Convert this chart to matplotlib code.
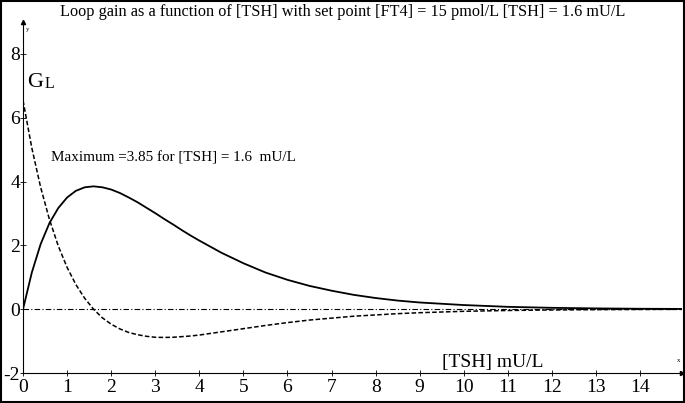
import numpy as np
import matplotlib.pyplot as plt
from matplotlib.patches import Rectangle

# [TSH] values (mU/L)
tsh = [0, 0.2, 0.4, 0.6, 0.8, 1.0, 1.2, 1.4, 1.6, 1.8, 2.0, 2.2, 2.4, 2.6, 2.8,
       3.0, 3.2, 3.4, 3.6, 3.8, 4.0, 4.5, 5.0, 5.5, 6.0, 6.5, 7.0, 7.5, 8.0,
       8.5, 9.0, 10.0, 11.0, 12.0, 13.0, 14.0, 15.0]
# loop gain G_L (solid)
gain = [0, 1.15, 2.04, 2.70, 3.17, 3.50, 3.71, 3.82, 3.85, 3.82, 3.75, 3.64,
        3.50, 3.35, 3.18, 3.01, 2.83, 2.66, 2.48, 2.31, 2.15, 1.77, 1.44, 1.15,
        0.92, 0.73, 0.58, 0.45, 0.35, 0.27, 0.21, 0.13, 0.074, 0.043, 0.025,
        0.014, 0.008]
# slope of loop gain (dashed)
slope = [6.54, 5.05, 3.82, 2.81, 1.98, 1.31, 0.77, 0.34, 0, -0.27, -0.47, -0.62,
         -0.73, -0.80, -0.85, -0.88, -0.885, -0.88, -0.86, -0.84, -0.81, -0.71,
         -0.61, -0.51, -0.42, -0.34, -0.28, -0.22, -0.18, -0.14, -0.11, -0.066,
         -0.040, -0.024, -0.014, -0.008, -0.004]

x_ticks = list(range(0, 15))
y_ticks = [-2, 0, 2, 4, 6, 8]

plt.rcParams['font.family'] = ['Liberation Serif', 'DejaVu Serif']
plt.rcParams['axes.unicode_minus'] = False

fig = plt.figure(figsize=(6.85, 4.03), dpi=100)
ax = fig.add_axes([0.0336, 0.0744, 0.962, 0.871])

ax.plot(tsh, gain, color='black', lw=1.3)
ax.plot(tsh, slope, color='black', lw=1.1, ls=(0, (3, 1.5)))
ax.plot([0, 15], [0, 0], color='black', lw=0.8, ls=(0, (5, 2, 1, 2)))

ax.set_xlim(0, 14.95)
ax.set_ylim(-2, 9)

for s in ['top', 'right']:
    ax.spines[s].set_visible(False)
ax.spines['left'].set_linewidth(0.8)
ax.spines['bottom'].set_linewidth(0.8)

# arrow heads on the axes
ax.plot(1, 0, '>k', ms=3, transform=ax.transAxes, clip_on=False)
ax.plot(0, 1, '^k', ms=3, transform=ax.transAxes, clip_on=False)
ax.text(0.004, 0.985, 'y', transform=ax.transAxes, fontsize=5, va='top')
ax.text(0.997, 0.03, 'x', transform=ax.transAxes, fontsize=5, ha='right')

ax.set_xticks(x_ticks)
ax.set_yticks(y_ticks)
ax.tick_params(direction='inout', length=4, width=0.6, labelsize=14)
ax.tick_params(axis='y', pad=0)
ax.tick_params(axis='x', pad=2)

fig.text(0.5, 0.97, 'Loop gain as a function of [TSH] with set point [FT4] = 15 pmol/L [TSH] = 1.6 mU/L',
         ha='center', va='center', fontsize=11.7)
ax.text(0.1, 7.1, 'G', fontsize=16, va='center')
ax.text(0.5, 7.05, 'L', fontsize=11.5, va='center')
ax.text(0.63, 4.75, 'Maximum =3.85 for [TSH] = 1.6  mU/L', fontsize=10.9, va='center')
ax.text(9.5, -1.81, '[TSH] mU/L', fontsize=14, va='baseline')

fig.patches.append(Rectangle((0.002, 0.003), 0.996, 0.994, transform=fig.transFigure,
                             fill=False, ec='black', lw=1.5))

fig.savefig('out.png', dpi=100)
